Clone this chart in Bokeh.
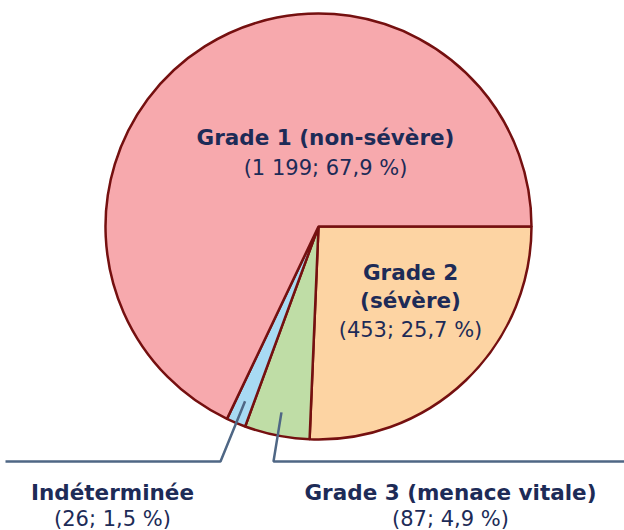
import math
from bokeh.plotting import figure
from bokeh.models import ColumnDataSource, Range1d
from bokeh.core.properties import value
from bokeh.embed import file_html
from bokeh.resources import INLINE

# Data (clockwise from 3 o'clock)
categories = ["Grade 2 (sévère)", "Grade 3 (menace vitale)", "Indéterminée", "Grade 1 (non-sévère)"]
counts = [453, 87, 26, 1199]
percent_labels = ["25,7 %", "4,9 %", "1,5 %", "67,9 %"]
count_labels = ["453", "87", "26", "1 199"]
colors = ["#FDD4A3", "#BFDDA6", "#A8DAF3", "#F7A9AD"]

W, H = 624, 530
p = figure(width=W, height=H, output_backend="svg", toolbar_location=None,
           x_range=Range1d(0, W), y_range=Range1d(0, H), min_border=0)
p.axis.visible = False
p.grid.visible = False
p.outline_line_color = None
p.background_fill_color = "white"

cx, cy, R = 318, 304, 213
total = sum(counts)
ends, starts = [], []
acc = 0.0
for c in counts:
    s = -2 * math.pi * acc / total
    acc += c
    e = -2 * math.pi * acc / total
    starts.append(e)
    ends.append(s)

src = ColumnDataSource(dict(start=starts, end=ends, color=colors))
p.wedge(x=cx, y=cy, radius=R, start_angle="start", end_angle="end",
        direction="anticlock", fill_color="color", line_color="#751010",
        line_width=2.5, source=src)

navy = "#1D2B57"
font = value("DejaVu Sans")
lead = "#4F6785"

# Leader lines for small slices
mids = [(s + e) / 2 for s, e in zip(starts, ends)]
ly = 69
for idx, ex, hx in [(2, 220, 5), (1, 273, W)]:
    a = mids[idx]
    r = 0.89 * R
    x0, y0 = cx + r * math.cos(a), cy + r * math.sin(a)
    p.line(x=[x0, ex, hx], y=[y0, ly, ly], line_color=lead, line_width=2.5)

def lab(x, y, t, bold=True):
    p.text(x=[x], y=[y], text=[t], text_font=font,
           text_font_size="21.5px" if bold else "21px",
           text_font_style="bold" if bold else "normal", text_color=navy,
           text_align="center", text_baseline="middle")

# Grade 1
lab(325, 393, categories[3])
lab(325, 363, "(" + count_labels[3] + "; " + percent_labels[3] + ")", bold=False)
# Grade 2
lab(410, 258, "Grade 2")
lab(410, 230, "(sévère)")
lab(410, 201, "(" + count_labels[0] + "; " + percent_labels[0] + ")", bold=False)
# Indéterminée
lab(112, 38, categories[2])
lab(112, 12, "(" + count_labels[2] + "; " + percent_labels[2] + ")", bold=False)
# Grade 3
lab(450, 38, categories[1])
lab(450, 12, "(" + count_labels[1] + "; " + percent_labels[1] + ")", bold=False)

open("out.html", "w").write(file_html(p, INLINE))
